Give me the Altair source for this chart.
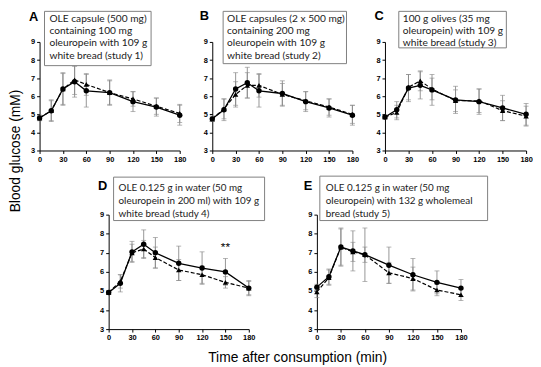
import altair as alt
import pandas as pd

times = [0, 15, 30, 45, 60, 90, 120, 150, 180]
x_ticks = [0, 30, 60, 90, 120, 150, 180]
y_ticks = [3, 4, 5, 6, 7, 8, 9]

a_circ = [4.8, 5.2, 6.4, 6.8, 6.3, 6.2, 5.7, 5.4, 4.95]
a_circ_err = [0.15, 0.6, 0.9, 0.85, 0.9, 0.7, 0.55, 0.5, 0.55]
a_tri = [4.8, 5.2, 6.4, 6.9, 6.65, 6.2, 5.85, 5.45, 5.05]
a_tri_err = [0.15, 0.55, 0.85, 0.8, 0.6, 0.65, 0.4, 0.45, 0.5]

b_circ = [4.75, 5.25, 6.4, 6.75, 6.3, 6.15, 5.7, 5.35, 4.95]
b_circ_err = [0.15, 0.6, 0.9, 0.85, 0.9, 0.7, 0.55, 0.5, 0.55]
b_tri = [4.75, 5.3, 6.1, 6.6, 6.6, 6.1, 5.75, 5.4, 5.0]
b_tri_err = [0.15, 0.55, 0.7, 0.7, 0.65, 0.6, 0.5, 0.45, 0.5]

c_circ = [4.85, 5.25, 6.45, 6.6, 6.35, 5.8, 5.7, 5.35, 5.0]
c_circ_err = [0.1, 0.45, 0.75, 0.75, 0.85, 0.75, 0.7, 0.7, 0.6]
c_tri = [4.85, 5.1, 6.5, 6.85, 6.4, 5.75, 5.75, 5.2, 4.9]
c_tri_err = [0.1, 0.4, 0.7, 0.55, 0.6, 0.6, 0.65, 0.55, 0.55]

d_circ = [4.92, 5.4, 7.05, 7.45, 7.0, 6.45, 6.2, 6.0, 5.15]
d_circ_err = [0.1, 0.45, 0.55, 0.75, 0.8, 0.9, 0.85, 0.7, 0.4]
d_tri = [4.92, 5.5, 7.0, 7.2, 6.75, 6.1, 5.85, 5.45, 5.15]
d_tri_err = [0.1, 0.35, 0.45, 0.45, 0.55, 0.55, 0.45, 0.3, 0.35]

e_circ = [5.2, 5.75, 7.3, 7.1, 6.9, 6.35, 5.85, 5.45, 5.15]
e_circ_err = [0.15, 0.4, 1.0, 1.05, 1.4, 0.95, 0.85, 0.6, 0.45]
e_tri = [4.95, 5.7, 7.3, 7.05, 6.9, 5.95, 5.65, 5.05, 4.8]
e_tri_err = [0.3, 0.4, 0.95, 0.5, 0.4, 0.55, 0.6, 0.3, 0.3]

a_text = "OLE capsule (500 mg)\ncontaining 100 mg\noleuropein with 109 g\nwhite bread (study 1)"
b_text = "OLE capsules (2 x 500 mg)\ncontaining 200 mg\noleuropein with 109 g\nwhite bread (study 2)"
c_text = "100 g olives (35 mg\noleuropein) with 109 g\nwhite bread (study 3)"
d_text = "OLE 0.125 g in water (50 mg\noleuropein in 200 ml) with 109 g\nwhite bread (study 4)"
e_text = "OLE 0.125 g in water (50 mg\noleuropein)  with 132 g wholemeal\nbread (study 5)"

star_time = [150]
star_val = [7.3]
star_text = ["**"]

y_title = "Blood glucose (mM)"
x_title = "Time after consumption (min)"

ERR = "#8a8a8a"
BOXFONT = "Lato"


def panel(circ, circ_err, tri, tri_err, w, h, letter, letter_xy, box, text, text_xy,
          line_h, font_size, x_axis_title=None, stars=False, left_marker=False):
    rows = []
    for t, v, e in zip(times, circ, circ_err):
        rows.append(dict(time=t, val=v, lo=v - e, hi=v + e, s="c"))
    for t, v, e in zip(times, tri, tri_err):
        rows.append(dict(time=t, val=v, lo=v - e, hi=v + e, s="t"))
    df = pd.DataFrame(rows)

    if x_axis_title:
        xaxis = alt.Axis(values=x_ticks, title=x_axis_title[0], titleX=x_axis_title[1],
                         titleY=x_axis_title[2], titleBaseline="alphabetic",
                         titleAlign="center", titleAngle=0, labelOverlap=False)
    else:
        xaxis = alt.Axis(values=x_ticks, title=None, labelOverlap=False)
    yaxis = alt.Axis(values=y_ticks, title=None, labelOverlap=False)

    xs = alt.Scale(domain=[0, 180], nice=False)
    ys = alt.Scale(domain=[3, 9], nice=False)

    def X():
        return alt.X("time:Q", scale=xs, axis=xaxis)

    def Y(f):
        return alt.Y(f + ":Q", scale=ys, axis=yaxis)

    base = alt.Chart(df)
    err = base.mark_rule(color=ERR, strokeWidth=0.9).encode(
        x=X(), y=Y("lo"), y2="hi:Q")
    cap_lo = base.mark_tick(color=ERR, orient="horizontal", size=5, thickness=0.9).encode(
        x=X(), y=Y("lo"))
    cap_hi = base.mark_tick(color=ERR, orient="horizontal", size=5, thickness=0.9).encode(
        x=X(), y=Y("hi"))
    line_c = base.transform_filter(alt.datum.s == "c").mark_line(
        color="black", strokeWidth=1.3).encode(x=X(), y=Y("val"))
    line_t = base.transform_filter(alt.datum.s == "t").mark_line(
        color="black", strokeWidth=1.2, strokeDash=[4, 2]).encode(x=X(), y=Y("val"))
    pt_c = base.transform_filter(alt.datum.s == "c").mark_point(
        shape="circle", filled=True, size=30, color="black", opacity=1).encode(
        x=X(), y=Y("val"))
    pt_t = base.transform_filter(alt.datum.s == "t").mark_point(
        shape="triangle-up", filled=True, size=30, color="black", opacity=1).encode(
        x=X(), y=Y("val"))

    one = pd.DataFrame({"txt": [text], "lab": [letter]})
    ann = alt.Chart(one)
    rect = ann.mark_rect(fill="white", stroke="#7f7f7f", strokeWidth=1).encode(
        x=alt.value(box[0]), x2=alt.value(box[1]), y=alt.value(box[2]), y2=alt.value(box[3]))
    txt = ann.mark_text(align="left", baseline="top", font=BOXFONT, fontSize=font_size,
                        lineBreak="\n", lineHeight=line_h, color="#222222").encode(
        x=alt.value(text_xy[0]), y=alt.value(text_xy[1]), text="txt:N")
    lab = ann.mark_text(align="center", baseline="middle", font="Liberation Sans",
                        fontSize=13, fontWeight="bold", color="black").encode(
        x=alt.value(letter_xy[0]), y=alt.value(letter_xy[1]), text="lab:N")

    layers = [line_c, err, cap_lo, cap_hi, line_t, pt_c, pt_t, rect, txt, lab]
    if left_marker:
        layers.append(ann.mark_rect(opacity=0).encode(
            x=alt.value(-12), x2=alt.value(-11), y=alt.value(50), y2=alt.value(51)))
    if stars:
        sdf = pd.DataFrame({"time": star_time, "val": star_val, "t": star_text})
        layers.append(alt.Chart(sdf).mark_text(font="Liberation Sans", fontSize=12,
                                               baseline="middle", color="black").encode(
            x=alt.X("time:Q", scale=xs, axis=xaxis), y=alt.Y("val:Q", scale=ys, axis=yaxis),
            text="t:N"))
    return alt.layer(*layers).properties(width=w, height=h)


def spacer(w, h):
    return alt.Chart(pd.DataFrame({"a": [0]})).mark_rect(opacity=0).encode(
        x=alt.value(0), x2=alt.value(w), y=alt.value(0), y2=alt.value(1)
    ).properties(width=w, height=h)


pA = panel(a_circ, a_circ_err, a_tri, a_tri_err, 142, 110, "A", (-6, -25),
           (5, 113, -31, 24), a_text, (10, -28.5), 12.5, 10.3, left_marker=True)
pB = panel(b_circ, b_circ_err, b_tri, b_tri_err, 142, 110, "B", (-8, -26),
           (11, 136, -31, 22), b_text, (15, -28.5), 12.5, 10.3)
pC = panel(c_circ, c_circ_err, c_tri, c_tri_err, 143, 110, "C", (-6, -26),
           (14, 123, -31, 6), c_text, (18, -28.5), 12.5, 10.3)
pD = panel(d_circ, d_circ_err, d_tri, d_tri_err, 142, 116, "D", (-6, -29),
           (5, 158, -38, 6), d_text, (10, -31.5), 13, 10,
           x_axis_title=(x_title, 191, 33), stars=True)
pE = panel(e_circ, e_circ_err, e_tri, e_tri_err, 146, 116, "E", (-9, -29),
           (3, 173, -39, 6), e_text, (9, -31.5), 13, 10)

top = alt.hconcat(pA, pB, pC, spacing=33, bounds="flush")
bottom = alt.hconcat(spacer(1, 1), pD, pE, spacing=69, bounds="flush")

chart = alt.vconcat(
    top, bottom, spacing=12,
    title=alt.TitleParams(y_title, orient="left", anchor="middle", font="Liberation Sans",
                          fontSize=14, fontWeight="normal", color="black", offset=5, dx=37),
).properties(padding=0, background="white").configure_view(stroke=None).configure_axis(
    grid=False,
    labelFont="Liberation Sans",
    labelFontWeight="bold",
    labelFontSize=7.5,
    labelColor="black",
    labelPadding=2,
    labelFlush=False,
    labelOverlap=False,
    tickColor="black",
    tickSize=3,
    domainColor="black",
    titleFont="Liberation Sans",
    titleFontSize=14,
    titleFontWeight="normal",
    titleColor="black",
)

chart.save("out.html", embed_options={"renderer": "svg", "actions": False})
